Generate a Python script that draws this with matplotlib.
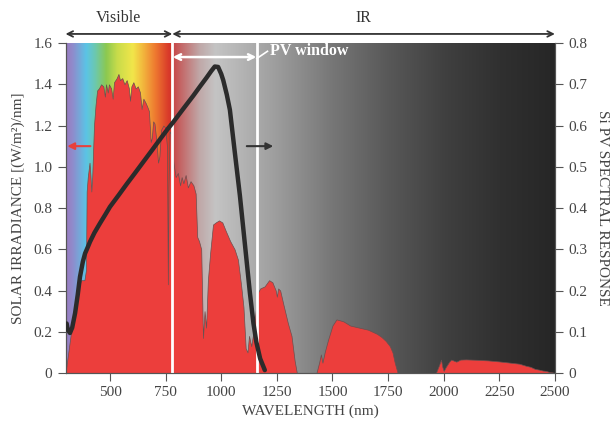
import numpy as np
import matplotlib
matplotlib.use('Agg')
import matplotlib.pyplot as plt
from matplotlib.colors import to_rgb

plt.rcParams['font.family'] = ['Liberation Serif', 'DejaVu Serif']

# solar spectrum (nm, W/m2/nm)
wl = [300, 310, 320, 330, 340, 350, 360, 370, 385, 392, 395, 400, 408, 412, 416, 420, 428, 435, 442,
      450, 460, 470, 477, 482, 490, 495, 505, 512, 518, 530, 538, 545, 555, 565, 575, 585, 590, 596,
      605, 615, 625, 635, 642, 650, 660, 668, 675, 683, 688, 694, 700, 708, 716, 722, 730, 740, 748,
      756, 760, 763, 768, 775, 785, 795, 805, 815, 822, 830, 840, 850, 862, 875, 885, 892, 900, 910,
      918, 925, 932, 940, 950, 963, 975, 990, 1005, 1020, 1040, 1060, 1075, 1090, 1100, 1110, 1118,
      1125, 1135, 1145, 1155, 1165, 1175, 1195, 1215, 1230, 1245, 1250, 1256, 1265, 1280, 1300, 1316,
      1330, 1340, 1428, 1440, 1448, 1455, 1465, 1480, 1500, 1518, 1535, 1550, 1565, 1580, 1600, 1620,
      1640, 1660, 1680, 1700, 1720, 1740, 1758, 1770, 1780, 1793, 1965, 1980, 1988, 1994, 2000, 2010,
      2025, 2034, 2045, 2057, 2075, 2100, 2150, 2200, 2250, 2300, 2340, 2370, 2390, 2410, 2430, 2445,
      2460, 2475, 2490, 2500]
irr = [0.0, 0.08, 0.16, 0.24, 0.31, 0.36, 0.42, 0.45, 0.45, 0.50, 0.88, 0.95, 1.02, 0.96, 0.88, 0.95,
       1.20, 1.30, 1.37, 1.38, 1.40, 1.39, 1.34, 1.40, 1.36, 1.40, 1.38, 1.33, 1.41, 1.43, 1.45, 1.42,
       1.43, 1.40, 1.42, 1.38, 1.32, 1.39, 1.41, 1.38, 1.39, 1.36, 1.28, 1.33, 1.31, 1.29, 1.27, 1.12,
       1.14, 1.22, 1.21, 1.13, 1.02, 1.05, 1.18, 1.20, 1.19, 1.10, 0.43, 0.90, 1.17, 1.16, 1.02, 0.95,
       0.97, 0.91, 0.95, 0.92, 0.96, 0.90, 0.93, 0.91, 0.87, 0.66, 0.64, 0.60, 0.17, 0.30, 0.22, 0.45,
       0.58, 0.72, 0.73, 0.74, 0.73, 0.69, 0.64, 0.60, 0.55, 0.42, 0.32, 0.12, 0.10, 0.18, 0.13, 0.20,
       0.30, 0.39, 0.41, 0.42, 0.45, 0.44, 0.40, 0.37, 0.41, 0.40, 0.33, 0.24, 0.18, 0.06, 0.0, 0.0,
       0.05, 0.09, 0.05, 0.10, 0.16, 0.23, 0.26, 0.255, 0.25, 0.24, 0.23, 0.225, 0.22, 0.215, 0.21,
       0.20, 0.19, 0.175, 0.155, 0.13, 0.10, 0.05, 0.0, 0.0, 0.04, 0.065, 0.03, 0.01, 0.03, 0.055,
       0.065, 0.06, 0.055, 0.065, 0.066, 0.064, 0.061, 0.056, 0.05, 0.045, 0.035, 0.03, 0.02, 0.016,
       0.012, 0.01, 0.005, 0.003, 0.0]

# Si PV spectral response
pv_wl = [300, 305, 310, 320, 330, 343, 355, 365, 378, 388, 400, 410, 430, 455, 480, 500, 540, 575,
         610, 650, 690, 724, 760, 784, 830, 874, 905, 934, 955, 971, 986, 1000, 1009, 1025, 1039,
         1060, 1084, 1105, 1129, 1145, 1158, 1175, 1196]
pv_resp = [0.115, 0.12, 0.105, 0.097, 0.11, 0.145, 0.19, 0.233, 0.27, 0.29, 0.305, 0.318, 0.34,
           0.363, 0.385, 0.403, 0.432, 0.458, 0.483, 0.512, 0.541, 0.566, 0.592, 0.608, 0.641,
           0.672, 0.695, 0.716, 0.732, 0.743, 0.742, 0.725, 0.71, 0.675, 0.638, 0.54, 0.43, 0.32,
           0.194, 0.12, 0.075, 0.035, 0.007]

# background colour stops (nm, colour)
bg_nm = [300, 330, 390, 430, 480, 530, 600, 650, 700, 760, 779, 781, 820, 900, 970, 1100, 1250,
         1500, 1750, 2000, 2250, 2500]
bg_col = ['#9a7cc0', '#8f8ccc', '#5bc4e6', '#6cc8b0', '#8cc850', '#c8dc4a', '#f2e64a', '#f2b23c',
          '#ee7a30', '#d93a2a', '#d4322a', '#c84848', '#c46a6a', '#c0a8a8', '#c4c4c4', '#b2b2b2',
          '#9c9c9c', '#767676', '#585858', '#404040', '#303030', '#262626']

x_ticks = [500, 750, 1000, 1250, 1500, 1750, 2000, 2250, 2500]
left_ticks = [0, 0.2, 0.4, 0.6, 0.8, 1.0, 1.2, 1.4, 1.6]
left_labels = ['0', '0.2', '0.4', '0.6', '0.8', '1.0', '1.2', '1.4', '1.6']
right_ticks = [0, 0.1, 0.2, 0.3, 0.4, 0.5, 0.6, 0.7, 0.8]
right_labels = ['0', '0.1', '0.2', '0.3', '0.4', '0.5', '0.6', '0.7', '0.8']

txt = '#444444'
fig = plt.figure(figsize=(6.14, 4.26), dpi=100)
ax = fig.add_axes([0.1067, 0.1244, 0.797, 0.7746])

# gradient background
grid = np.linspace(300, 2500, 1100)
rgb = np.array([to_rgb(c) for c in bg_col])
img = np.stack([np.interp(grid, bg_nm, rgb[:, k]) for k in range(3)], axis=-1)[None, :, :]
ax.imshow(img, extent=[300, 2500, 0, 1.6], aspect='auto', zorder=0, interpolation='bilinear')

ax.fill_between(wl, irr, 0, facecolor='#ec3e3c', edgecolor='#6a5050', linewidth=0.5, zorder=2)

for v in (780, 1160):
    ax.axvline(v, color='white', lw=2, zorder=3)

ax.set_xlim(300, 2500)
ax.set_ylim(0, 1.6)
ax.set_xticks(x_ticks)
ax.set_yticks(left_ticks)
ax.set_yticklabels(left_labels)
ax.tick_params(direction='out', length=6, color='#555555', labelcolor=txt, labelsize=11)
for s in ax.spines.values():
    s.set_color('#555555')
ax.spines['top'].set_visible(False)
ax.set_xlabel('WAVELENGTH (nm)', color=txt, fontsize=11, labelpad=4)
ax.set_ylabel('SOLAR IRRADIANCE [(W/m²)/nm]', color=txt, fontsize=11, labelpad=6)

ax2 = ax.twinx()
ax2.plot(pv_wl, pv_resp, color='#2b2b2b', lw=3.2, solid_capstyle='round', solid_joinstyle='round', zorder=4)
ax2.set_ylim(0, 0.8)
ax2.set_yticks(right_ticks)
ax2.set_yticklabels(right_labels)
ax2.tick_params(direction='out', length=6, color='#555555', labelcolor=txt, labelsize=11)
for s in ax2.spines.values():
    s.set_color('#555555')
ax2.spines['top'].set_visible(False)
ax2.set_ylabel('Si PV SPECTRAL RESPONSE', color=txt, fontsize=11, rotation=270, labelpad=16)

# region arrows above the plot
ax.annotate('', xy=(300, 1.644), xytext=(780, 1.644), annotation_clip=False,
            arrowprops=dict(arrowstyle='<->', color='#333333', lw=1.3, shrinkA=0, shrinkB=0))
ax.annotate('', xy=(780, 1.644), xytext=(2500, 1.644), annotation_clip=False,
            arrowprops=dict(arrowstyle='<->', color='#333333', lw=1.3, shrinkA=0, shrinkB=0))
ax.text(540, 1.72, 'Visible', ha='center', va='center', color='#333333', fontsize=11.5, clip_on=False)
ax.text(1640, 1.72, 'IR', ha='center', va='center', color='#333333', fontsize=11.5, clip_on=False)

# PV window
ax.annotate('', xy=(782, 1.532), xytext=(1158, 1.532), zorder=5,
            arrowprops=dict(arrowstyle='<->', color='white', lw=1.8, shrinkA=0, shrinkB=0))
ax.plot([1160, 1208], [1.525, 1.56], color='white', lw=1.2, zorder=5)
ax.text(1218, 1.56, 'PV window', color='white', fontsize=11.5, fontweight='bold', va='center', zorder=5)

# axis pointers
ax.annotate('', xy=(308, 1.10), xytext=(412, 1.10),
            arrowprops=dict(arrowstyle='-|>', color='#e8403c', lw=1.5, mutation_scale=10, shrinkA=0, shrinkB=0), zorder=5)
ax.annotate('', xy=(1234, 1.10), xytext=(1115, 1.10),
            arrowprops=dict(arrowstyle='-|>', color='#333333', lw=1.5, mutation_scale=10, shrinkA=0, shrinkB=0), zorder=5)

fig.savefig('out.png', dpi=100)
